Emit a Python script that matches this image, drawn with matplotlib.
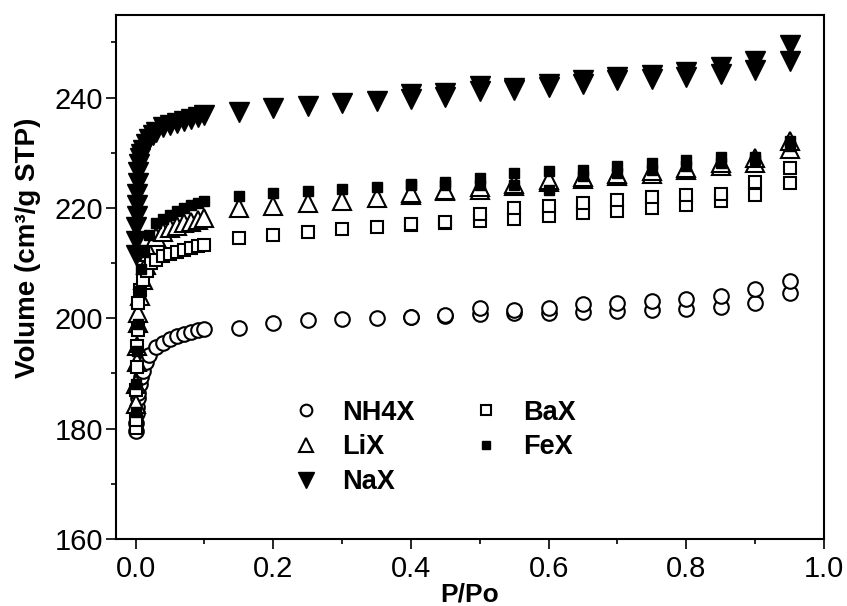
import matplotlib
matplotlib.use("Agg")
import matplotlib.pyplot as plt
from matplotlib.ticker import MultipleLocator

plt.rcParams['font.family'] = ['Liberation Sans', 'DejaVu Sans']

# shared relative pressures for the flat part of the isotherms
p_high = [0.15, 0.2, 0.25, 0.3, 0.35, 0.4, 0.45, 0.5, 0.55, 0.6, 0.65, 0.7, 0.75, 0.8, 0.85, 0.9, 0.95]
p_des = [0.95, 0.9, 0.85, 0.8, 0.75, 0.7, 0.65, 0.6, 0.55, 0.5, 0.45, 0.4]

# NH4X
p_low_nh4 = [0.0003, 0.0008, 0.0015, 0.002, 0.003, 0.004, 0.006, 0.008, 0.01, 0.015, 0.02, 0.03, 0.04, 0.05, 0.06, 0.07, 0.08, 0.09, 0.1]
v_low_nh4 = [179.5, 181.0, 182.8, 184.0, 185.5, 186.5, 188.0, 189.3, 190.5, 192.0, 193.3, 194.7, 195.6, 196.2, 196.7, 197.1, 197.5, 197.8, 198.0]
v_high_nh4 = [198.2, 199.1, 199.6, 199.9, 200.1, 200.2, 200.4, 200.8, 200.9, 201.0, 201.2, 201.3, 201.5, 201.7, 202.0, 202.8, 204.6]
v_des_nh4 = [206.8, 205.3, 204.0, 203.4, 203.1, 202.8, 202.5, 201.9, 201.5, 201.9, 200.5, 200.3]

# LiX
p_low_li = [0.0003, 0.0008, 0.0015, 0.002, 0.003, 0.004, 0.006, 0.01, 0.015, 0.02, 0.03, 0.04, 0.05, 0.06, 0.07, 0.08, 0.09, 0.1]
v_low_li = [184.5, 188.0, 192.0, 195.0, 199.2, 201.0, 204.0, 207.0, 209.7, 212.0, 214.8, 215.6, 216.3, 216.8, 217.2, 217.5, 217.8, 218.1]
v_high_li = [220.0, 220.3, 220.9, 221.3, 221.8, 222.4, 223.0, 223.3, 223.9, 224.6, 225.2, 225.8, 226.1, 226.8, 227.5, 228.1, 230.6]
v_des_li = [232.1, 229.0, 228.1, 227.2, 226.6, 226.2, 225.6, 225.0, 224.3, 223.7, 223.3, 222.7]

# NaX
p_low_na = [0.0002, 0.0005, 0.001, 0.0015, 0.002, 0.0025, 0.003, 0.004, 0.005, 0.006, 0.008, 0.01, 0.015, 0.02, 0.025, 0.03, 0.04, 0.05, 0.06, 0.07, 0.08, 0.09, 0.1]
v_low_na = [211.5, 214.0, 216.5, 218.5, 220.5, 222.5, 224.5, 226.5, 228.0, 229.0, 229.8, 230.5, 231.5, 232.5, 233.2, 233.8, 234.6, 235.0, 235.4, 235.8, 236.1, 236.4, 236.8]
v_high_na = [237.4, 238.1, 238.5, 239.0, 239.4, 239.8, 240.1, 241.2, 241.3, 241.9, 242.4, 243.1, 243.4, 243.7, 244.3, 244.9, 246.7]
v_des_na = [249.5, 246.7, 245.5, 244.6, 244.0, 243.7, 243.1, 242.4, 241.8, 242.1, 240.9, 240.6]

# BaX
p_low_ba = [0.0003, 0.0006, 0.001, 0.0015, 0.002, 0.003, 0.004, 0.006, 0.011, 0.017, 0.023, 0.03, 0.04, 0.05, 0.06, 0.07, 0.08, 0.09, 0.1]
v_low_ba = [180.1, 181.6, 187.0, 191.2, 195.0, 197.9, 202.7, 205.1, 207.0, 208.6, 210.0, 210.6, 211.2, 211.6, 212.0, 212.4, 212.7, 213.0, 213.3]
v_high_ba = [214.5, 215.1, 215.7, 216.1, 216.5, 216.9, 217.3, 217.7, 218.0, 218.5, 219.1, 219.4, 220.0, 220.6, 221.3, 222.3, 224.5]
v_des_ba = [227.3, 224.6, 222.6, 222.4, 222.0, 221.4, 220.8, 220.4, 219.9, 218.9, 217.5, 217.0]

# FeX
p_low_fe = [0.0005, 0.001, 0.002, 0.003, 0.005, 0.008, 0.012, 0.02, 0.03, 0.04, 0.05, 0.06, 0.07, 0.08, 0.09, 0.1]
v_low_fe = [183.0, 188.0, 194.0, 199.0, 205.0, 209.0, 212.0, 215.0, 217.2, 218.0, 218.7, 219.5, 220.0, 220.6, 220.9, 221.2]
v_high_fe = [222.1, 222.7, 223.0, 223.4, 223.8, 224.2, 224.2, 224.2, 224.2, 223.3, 225.7, 226.3, 226.9, 227.5, 228.1, 228.7, 231.2]
v_des_fe = [232.1, 229.3, 229.3, 228.7, 228.1, 227.5, 226.9, 226.6, 226.3, 225.4, 224.6, 224.4]

fig = plt.figure(figsize=(8.47, 6.06), dpi=100)
ax = fig.add_axes([0.1366, 0.1106, 0.8362, 0.8651])

samples = [
    ("NH4X", p_low_nh4, v_low_nh4, v_high_nh4, v_des_nh4, dict(marker='o', ms=10.5, mfc='white', mec='black', mew=1.5)),
    ("LiX", p_low_li, v_low_li, v_high_li, v_des_li, dict(marker='^', ms=12.5, mfc='white', mec='black', mew=1.5)),
    ("NaX", p_low_na, v_low_na, v_high_na, v_des_na, dict(marker='v', ms=14, mfc='black', mec='black', mew=1)),
    ("BaX", p_low_ba, v_low_ba, v_high_ba, v_des_ba, dict(marker='s', ms=9, mfc='white', mec='black', mew=1.5)),
    ("FeX", p_low_fe, v_low_fe, v_high_fe, v_des_fe, dict(marker='s', ms=7.5, mfc='black', mec='black', mew=1)),
]

handles = []
for name, pl, vl, vh, vd, style in samples:
    h, = ax.plot(pl + p_high, vl + vh, ls='none', label=name, **style)
    ax.plot(p_des, vd, ls='none', **style)
    handles.append(h)

ax.set_xlim(-0.029, 1.0)
ax.set_ylim(160, 255)
ax.xaxis.set_major_locator(MultipleLocator(0.2))
ax.xaxis.set_minor_locator(MultipleLocator(0.1))
ax.yaxis.set_major_locator(MultipleLocator(20))
ax.yaxis.set_minor_locator(MultipleLocator(10))
ax.tick_params(which='major', direction='out', length=7.5, width=1.2, labelsize=21, pad=1.5)
ax.tick_params(which='minor', direction='out', length=3.8, width=1.2)
ax.tick_params(axis='x', which='major', pad=4)
ax.xaxis.set_major_formatter(matplotlib.ticker.FormatStrFormatter('%.1f'))
for s in ax.spines.values():
    s.set_linewidth(1.5)

ax.set_ylabel('Volume (cm³/g STP)', fontsize=20, fontweight='bold')
ax.yaxis.set_label_coords(-0.106, 0.555)
ax.set_xlabel('P/Po', fontsize=19, fontweight='bold')
ax.xaxis.set_label_coords(0.5, -0.083)

ax.legend(handles=handles, ncol=2, frameon=False, loc='upper left',
          bbox_to_anchor=(0.249, 0.266), borderpad=0, borderaxespad=0,
          handlelength=1.0, handletextpad=0.85, columnspacing=2.15,
          labelspacing=0.33, markerscale=0.8, numpoints=1,
          prop={'size': 19.5, 'weight': 'bold'})

fig.savefig('out.png', dpi=100)
